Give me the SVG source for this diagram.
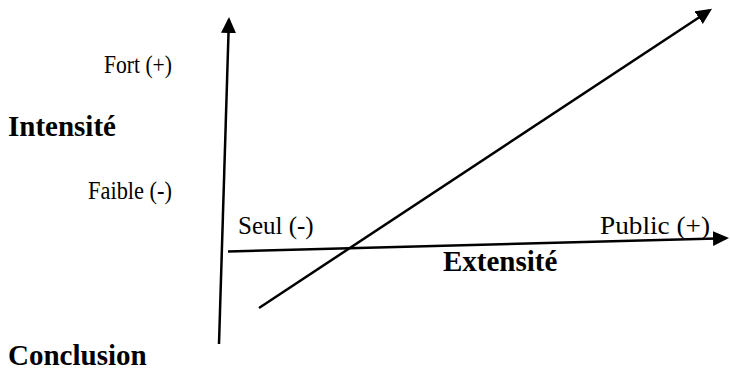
<svg xmlns="http://www.w3.org/2000/svg" width="730" height="373" viewBox="0 0 730 373">
<style>
.t{font-family:"Liberation Serif","Times New Roman",serif;font-size:25px;fill:#000}
.b{font-family:"Liberation Serif","Times New Roman",serif;font-size:29px;font-weight:bold;fill:#000}
.ax{stroke:#000;stroke-width:2.5;fill:none}
</style>
<defs>
<marker id="ah" markerUnits="userSpaceOnUse" markerWidth="18" markerHeight="16" refX="13" refY="7.5" orient="auto">
<path d="M0,0 L16,7.5 L0,15 z" fill="#000"/>
</marker>
</defs>
<rect width="730" height="373" fill="#fff"/>
<g id="connectors">
<line id="axis-intensite" class="ax" x1="219" y1="344" x2="228.9" y2="20" marker-end="url(#ah)"/>
<line id="axis-extensite" class="ax" x1="228" y1="251.5" x2="726" y2="238.2" marker-end="url(#ah)"/>
<line id="diagonal" class="ax" x1="259" y1="308" x2="709.5" y2="10.5" marker-end="url(#ah)"/>
</g>
<g id="label-fort"><text class="t" x="104" y="73" textLength="68" lengthAdjust="spacingAndGlyphs">Fort (+)</text></g>
<g id="label-intensite"><text class="b" x="8" y="136">Intensité</text></g>
<g id="label-faible"><text class="t" x="88" y="199" textLength="84" lengthAdjust="spacingAndGlyphs">Faible (-)</text></g>
<g id="label-seul"><text class="t" x="238" y="234">Seul (-)</text></g>
<g id="label-public"><text class="t" x="600" y="234" textLength="110" lengthAdjust="spacingAndGlyphs">Public (+)</text></g>
<g id="label-extensite"><text class="b" x="443" y="271">Extensité</text></g>
<g id="label-conclusion"><text class="b" x="8" y="365">Conclusion</text></g>
</svg>
